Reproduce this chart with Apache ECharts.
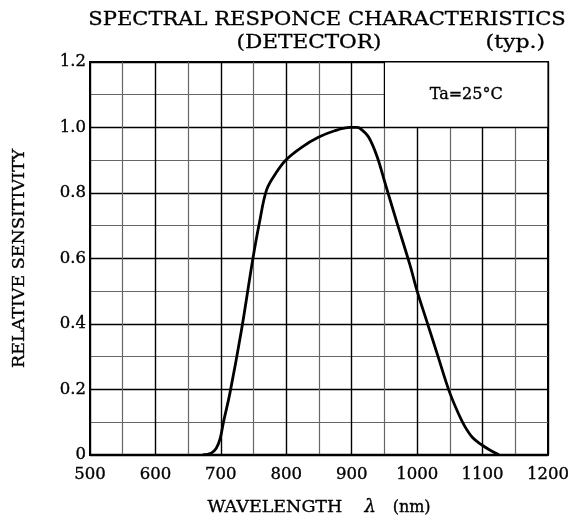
<!DOCTYPE html>
<html>
<head>
<meta charset="utf-8">
<script src="https://cdn.jsdelivr.net/npm/echarts@6/dist/echarts.min.js"></script>
<style>
  html, body { margin: 0; padding: 0; background: #fff; }
  #chart { width: 573px; height: 522px; }
</style>
</head>
<body>
<div id="chart"></div>
<script>
// wavelength (nm) and relative sensitivity
var wavelength = [672, 685, 693, 699, 704, 714, 731, 749, 759, 770, 784, 799, 824, 849, 874, 898, 908, 914, 926, 939, 951, 969, 989, 1000, 1016, 1032, 1048, 1060, 1072, 1085, 1099, 1111, 1125];
var sensitivity = [0, 0.005, 0.02, 0.05, 0.1, 0.19, 0.375, 0.6, 0.71, 0.81, 0.86, 0.9, 0.94, 0.97, 0.99, 1.0, 1.0, 0.995, 0.97, 0.91, 0.83, 0.71, 0.58, 0.5, 0.4, 0.3, 0.2, 0.14, 0.09, 0.052, 0.03, 0.015, 0];
var noteBox = [[950, 1.0], [1200, 1.2]];

var serif = "'DejaVu Serif', 'Liberation Serif', serif";
var curve = wavelength.map(function (w, i) { return [w, sensitivity[i]]; });

// a thin outline makes DejaVu look closer to the heavier original face
var heavy = { textBorderColor: '#000', textBorderWidth: 0.35 };

function headText(text, x, y, align, sx) {
  return {
    type: 'text', x: x, y: y, scaleX: sx,
    style: { text: text, fontFamily: serif, fontSize: 18, fill: '#000', align: align, verticalAlign: 'middle',
      stroke: '#000', lineWidth: 0.3 }
  };
}

var myChart = echarts.init(document.getElementById('chart'));
var option = {
  animation: false,
  backgroundColor: '#fff',
  graphic: [
    headText('SPECTRAL RESPONCE CHARACTERISTICS', 327, 20, 'center', 1.17),
    headText('(DETECTOR)', 309, 43, 'center', 1.2),
    headText('(typ.)', 545, 43, 'right', 1.22)
  ],
  grid: { left: 90, right: 25, top: 62, bottom: 66, show: true, borderColor: '#000', borderWidth: 2 },
  xAxis: {
    type: 'value', min: 500, max: 1200, interval: 100,
    name: 'WAVELENGTH    {l|λ}   {s|(nm)}', nameLocation: 'middle', nameGap: 44,
    nameTextStyle: Object.assign({ fontFamily: serif, fontSize: 17.5, color: '#000',
      rich: { l: { fontFamily: serif, fontSize: 18, fontStyle: 'italic' }, s: { fontFamily: serif, fontSize: 16 } } }, heavy),
    axisLine: { lineStyle: { color: '#000', width: 2 } },
    axisTick: { show: false },
    axisLabel: Object.assign({ fontFamily: serif, fontSize: 16.5, color: '#000', margin: 11,
      formatter: function (v) { return String(v); } }, heavy),
    splitLine: { lineStyle: { color: '#000', width: 1.4 } },
    minorTick: { show: false, splitNumber: 2 },
    minorSplitLine: { show: true, lineStyle: { color: '#666', width: 1.2 } }
  },
  yAxis: {
    type: 'value', min: 0, max: 1.2, interval: 0.2,
    name: 'RELATIVE SENSITIVITY', nameLocation: 'middle', nameGap: 62,
    nameTextStyle: Object.assign({ fontFamily: serif, fontSize: 17.5, color: '#000' }, heavy),
    axisLine: { show: true, lineStyle: { color: '#000', width: 2 } },
    axisTick: { show: false },
    axisLabel: Object.assign({ fontFamily: serif, fontSize: 16.5, color: '#000', margin: 4,
      formatter: function (v) { return v === 0 ? '0' : v.toFixed(1); } }, heavy),
    splitLine: { lineStyle: { color: '#000', width: 1.4 } },
    minorTick: { show: false, splitNumber: 2 },
    minorSplitLine: { show: true, lineStyle: { color: '#666', width: 1.2 } }
  },
  series: [{
    type: 'line',
    data: curve,
    smooth: 0.35,
    showSymbol: false,
    lineStyle: { color: '#000', width: 2.8 },
    markArea: {
      silent: true,
      itemStyle: { color: '#fff', borderColor: '#000', borderWidth: 1.2 },
      label: Object.assign({ show: true, position: 'inside', formatter: 'Ta=25°C',
        fontFamily: serif, fontSize: 16, color: '#000' }, heavy),
      data: [[{ coord: noteBox[0] }, { coord: noteBox[1] }]]
    }
  }]
};
myChart.setOption(option);
</script>
</body>
</html>
